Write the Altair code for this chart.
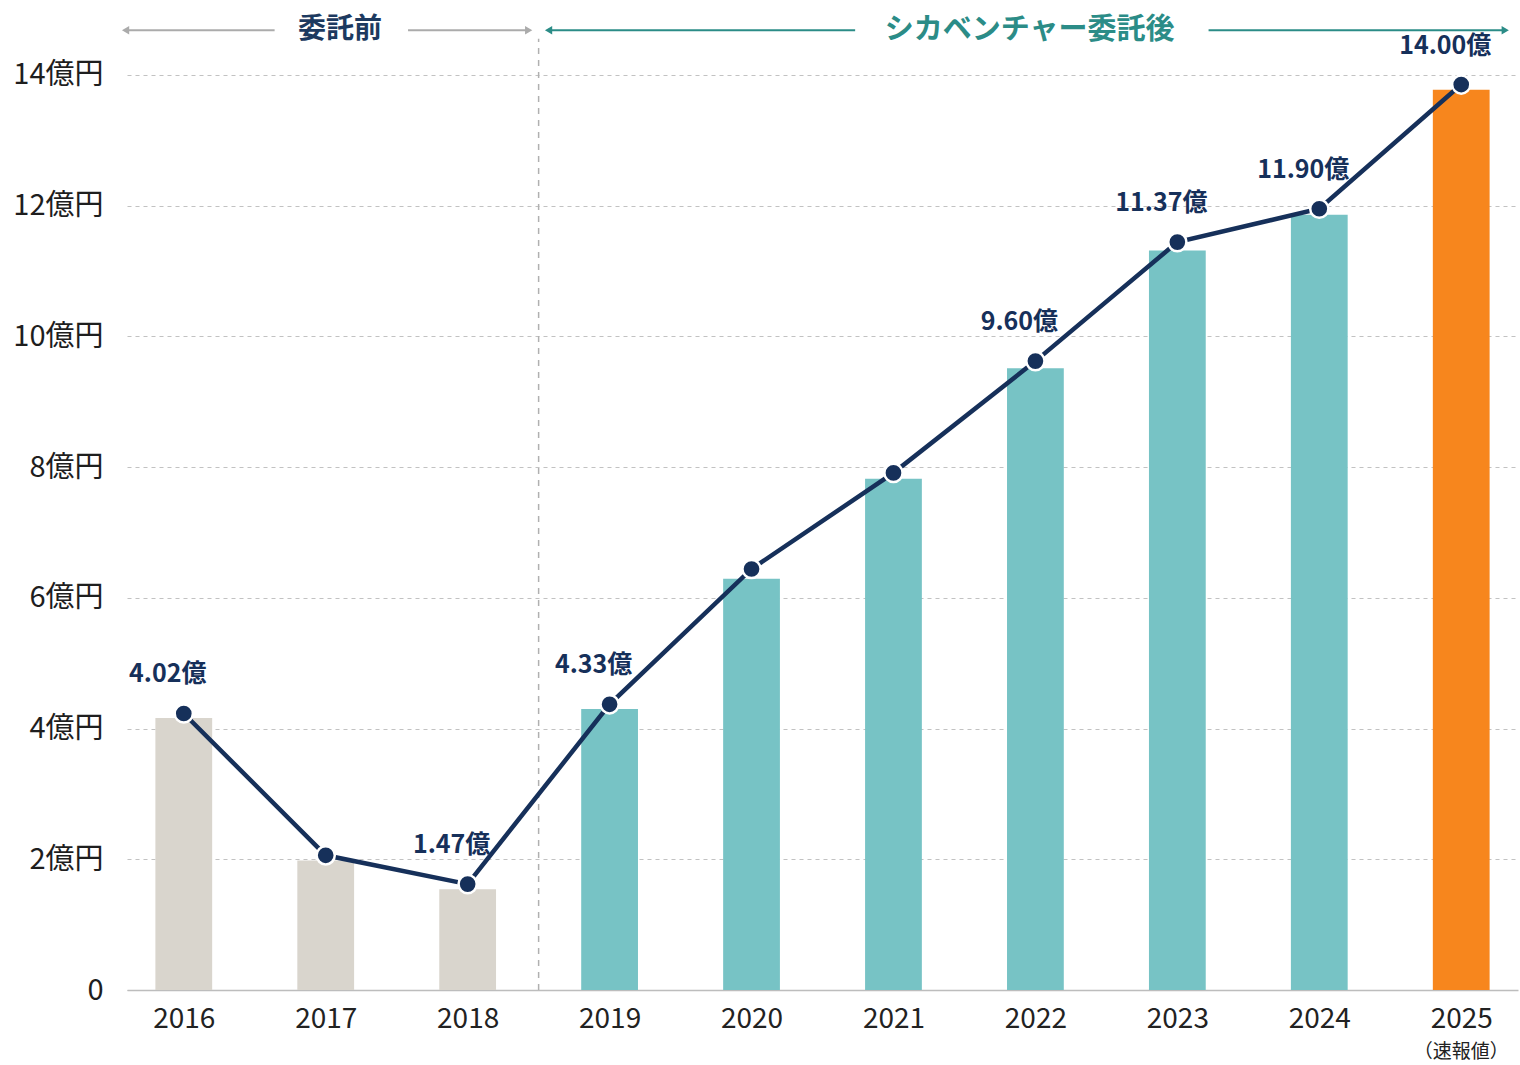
import altair as alt
import pandas as pd

years = ["2016", "2017", "2018", "2019", "2020", "2021", "2022", "2023", "2024", "2025"]
bar_values = [4.16, 1.98, 1.54, 4.30, 6.29, 7.82, 9.51, 11.31, 11.86, 13.77]
line_values = [4.23, 2.06, 1.62, 4.37, 6.44, 7.91, 9.62, 11.44, 11.95, 13.85]
point_labels = ["4.02億", "", "1.47億", "4.33億", "", "", "9.60億", "11.37億", "11.90億", "14.00億"]
phases = ["委託前", "委託前", "委託前", "委託後", "委託後", "委託後", "委託後", "委託後", "委託後", "速報値"]
y_ticks = [0, 2, 4, 6, 8, 10, 12, 14]
y_suffix = "億円"
pre_title = "委託前"
post_title = "シカベンチャー委託後"
note_2025 = "（速報値）"

NUM_FONT = "Noto Sans CJK JP"
JP_FONT = "Noto Sans CJK JP"
NAVY = "#16305a"
TEAL_TXT = "#2b8c87"
GRAY_ARROW = "#ababab"

df = pd.DataFrame({
    "i": list(range(len(years))),
    "year": years,
    "bar": bar_values,
    "line": line_values,
    "label": point_labels,
    "phase": phases,
})

xscale = alt.Scale(domain=[-0.4, 9.4], nice=False, zero=False)
yscale = alt.Scale(domain=[0, 14.7], nice=False, zero=True)

xaxis = alt.Axis(
    values=list(range(len(years))),
    labelExpr=str(years) + "[datum.value]",
    grid=False, ticks=False, domain=True, domainColor="#bdbdbd", domainWidth=1.5,
    labelFont=NUM_FONT, labelFontSize=28, labelColor="#222222", labelPadding=15,
    title=None,
)
yaxis = alt.Axis(
    values=y_ticks,
    labelExpr=f"datum.value == 0 ? '0' : datum.value + '{y_suffix}'",
    grid=True, gridDash=[4, 4], gridColor="#c2c2c2", gridWidth=1.2,
    domain=False, ticks=False,
    labelFont=NUM_FONT, labelFontSize=29, labelColor="#1e1e1e", labelPadding=24,
    title=None,
)

base = alt.Chart(df)

bars = base.transform_calculate(
    x1="datum.i - 0.2", x2="datum.i + 0.2"
).mark_bar().encode(
    x=alt.X("x1:Q", scale=xscale, axis=xaxis),
    x2="x2:Q",
    y=alt.Y("bar:Q", scale=yscale, axis=yaxis),
    y2=alt.datum(0),
    color=alt.Color("phase:N", scale=alt.Scale(domain=["委託前", "委託後", "速報値"],
                                               range=["#d9d5cd", "#77c3c5", "#f7861d"]), legend=None),
)

line = base.mark_line(color=NAVY, strokeWidth=4.5).encode(
    x=alt.X("i:Q", scale=xscale), y=alt.Y("line:Q", scale=yscale)
)
points = base.mark_circle(size=330, color=NAVY, opacity=1, stroke="white", strokeWidth=2.5).encode(
    x=alt.X("i:Q", scale=xscale), y=alt.Y("line:Q", scale=yscale)
)
labels = base.transform_filter("datum.label != ''").mark_text(
    dx=-16, dy=-39, fontSize=25, fontWeight="bold", color=NAVY, font=JP_FONT
).encode(
    x=alt.X("i:Q", scale=xscale), y=alt.Y("line:Q", scale=yscale), text="label:N"
)

# section divider & header arrows (annotation geometry in data units)
divider = alt.Chart(pd.DataFrame({"x": [2.5], "y0": [0], "y1": [14.55]})).mark_rule(
    color="#b0b0b0", strokeDash=[6, 6], strokeWidth=1.5
).encode(x=alt.X("x:Q", scale=xscale), y=alt.Y("y0:Q", scale=yscale), y2="y1:Q")

HEAD_Y = 14.68
pre_segs = pd.DataFrame({"a": [-0.41, 1.58], "b": [0.64, 2.43]})
post_segs = pd.DataFrame({"a": [2.57, 7.22], "b": [4.73, 9.31]})

def arrow_layers(segs, color, left_x, right_x):
    rules = alt.Chart(segs).mark_rule(color=color, strokeWidth=2).encode(
        x=alt.X("a:Q", scale=xscale), x2="b:Q", y=alt.datum(HEAD_Y, scale=yscale)
    )
    lh = alt.Chart(pd.DataFrame({"x": [left_x]})).mark_point(
        shape="triangle-left", filled=True, size=70, color=color, opacity=1
    ).encode(x=alt.X("x:Q", scale=xscale), y=alt.datum(HEAD_Y))
    rh = alt.Chart(pd.DataFrame({"x": [right_x]})).mark_point(
        shape="triangle-right", filled=True, size=70, color=color, opacity=1
    ).encode(x=alt.X("x:Q", scale=xscale), y=alt.datum(HEAD_Y))
    return rules + lh + rh

pre_arrow = arrow_layers(pre_segs, GRAY_ARROW, -0.41, 2.43)
post_arrow = arrow_layers(post_segs, TEAL_TXT, 2.57, 9.31)

pre_text = alt.Chart(pd.DataFrame({"x": [1.1], "t": [pre_title]})).mark_text(
    fontSize=28, fontWeight="bold", color="#1d3a60", font=JP_FONT, baseline="middle"
).encode(x=alt.X("x:Q", scale=xscale), y=alt.datum(HEAD_Y), text="t:N")
post_text = alt.Chart(pd.DataFrame({"x": [5.96], "t": [post_title]})).mark_text(
    fontSize=29, fontWeight="bold", color=TEAL_TXT, font=JP_FONT, baseline="middle"
).encode(x=alt.X("x:Q", scale=xscale), y=alt.datum(HEAD_Y), text="t:N")

note = alt.Chart(pd.DataFrame({"x": [9], "t": [note_2025]})).mark_text(
    fontSize=19, color="#222222", font=JP_FONT, baseline="middle"
).encode(x=alt.X("x:Q", scale=xscale), y=alt.datum(-0.95), text="t:N")

chart = alt.layer(
    bars, divider, line, points, labels, pre_arrow, post_arrow, pre_text, post_text, note
).properties(
    width=1391, height=961,
    autosize=alt.AutoSizeParams(type="none"),
    padding={"left": 127, "top": 29, "right": 2, "bottom": 75},
    background="white",
).configure_view(stroke=None)

chart.save("out.html", embed_options={"renderer": "svg", "actions": False})
